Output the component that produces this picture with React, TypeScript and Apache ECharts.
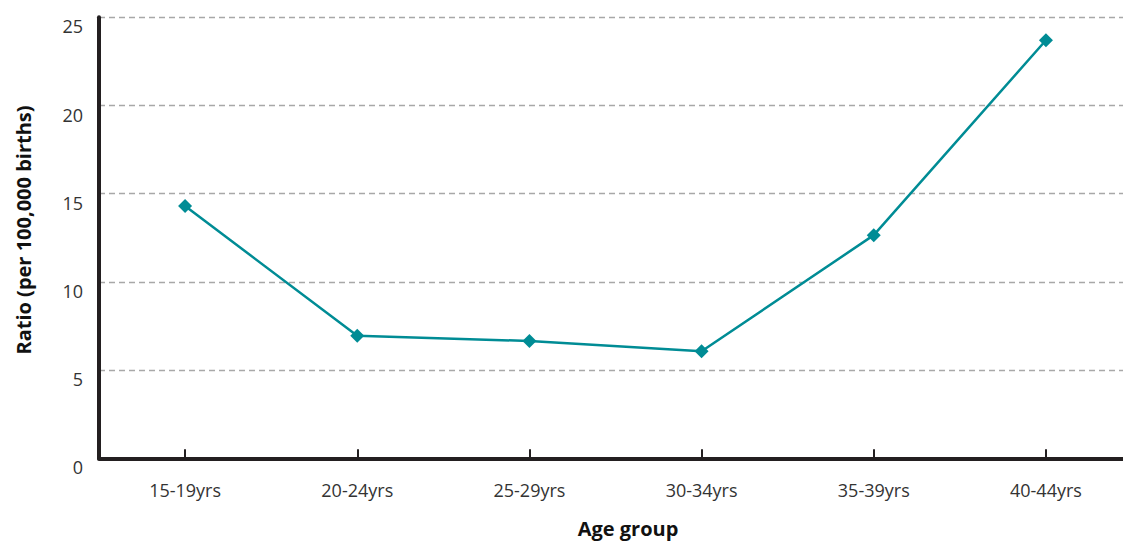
import React, { useEffect, useRef } from "react";
import * as echarts from "echarts";

const categories = ["15-19yrs", "20-24yrs", "25-29yrs", "30-34yrs", "35-39yrs", "40-44yrs"];
const ratioValues = [14.3, 6.95, 6.65, 6.07, 12.65, 23.7];
const yTicks = { min: 0, max: 25, interval: 5 };
const xAxisTitle = "Age group";
const yAxisTitle = "Ratio (per 100,000 births)";

const FONT = "'Open Sans', 'Noto Sans', sans-serif";
const TEXT = "#333333";

export default function App() {
  const ref = useRef<HTMLDivElement>(null);
  useEffect(() => {
    if (!ref.current) return;
    const chart = echarts.init(ref.current, null, { renderer: "svg" });
    chart.setOption({
      animation: false,
      backgroundColor: "#ffffff",
      textStyle: { fontFamily: FONT },
      grid: {
        left: 99,
        top: 17.3,
        bottom: 82.7,
        right: -9,
        containLabel: false,
        outerBoundsMode: "none",
      },
      xAxis: {
        type: "category",
        data: categories,
        boundaryGap: true,
        axisLine: { show: true, lineStyle: { color: "#231f20", width: 4 } },
        axisTick: {
          show: true,
          alignWithLabel: true,
          inside: true,
          length: 9,
          lineStyle: { color: "#231f20", width: 2 },
        },
        axisLabel: { color: TEXT, fontSize: 18, fontFamily: FONT, margin: 23 },
        splitLine: { show: false },
      },
      yAxis: {
        type: "value",
        min: yTicks.min,
        max: yTicks.max,
        interval: yTicks.interval,
        axisLine: { show: true, lineStyle: { color: "#231f20", width: 4 } },
        axisTick: { show: false },
        axisLabel: {
          color: TEXT,
          fontSize: 18,
          fontFamily: FONT,
          margin: 16,
          verticalAlign: "top",
          padding: [0, 0, 0, 0],
        },
        splitLine: {
          show: true,
          lineStyle: { color: "#a8a8a8", width: 1.3, type: [6, 4] },
        },
      },
      series: [
        {
          type: "line",
          data: ratioValues,
          symbol: "diamond",
          symbolSize: 14,
          lineStyle: { color: "#008c95", width: 2.5 },
          itemStyle: { color: "#008c95" },
          z: 5,
        },
      ],
      graphic: [
        {
          type: "text",
          x: 628,
          y: 528,
          style: {
            text: xAxisTitle,
            font: `bold 20px ${FONT}`,
            fill: "#111111",
            align: "center",
            verticalAlign: "middle",
          },
        },
        {
          type: "text",
          x: 23,
          y: 230,
          rotation: Math.PI / 2,
          style: {
            text: yAxisTitle,
            font: `bold 20px ${FONT}`,
            fill: "#111111",
            align: "center",
            verticalAlign: "middle",
          },
        },
      ],
    });
    return () => chart.dispose();
  }, []);
  return (
    <div
      ref={ref}
      style={{ position: "fixed", left: 0, top: 0, width: 1123, height: 541, background: "#fff" }}
    />
  );
}
